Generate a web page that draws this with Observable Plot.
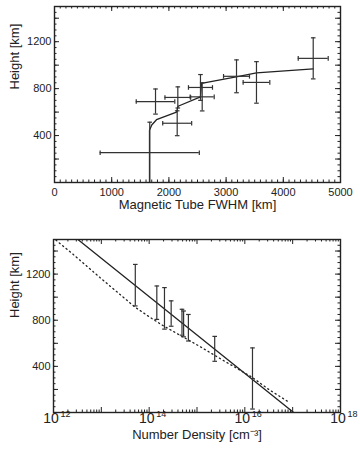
<!DOCTYPE html>
<html><head><meta charset="utf-8">
<script src="https://cdn.jsdelivr.net/npm/d3@7"></script>
<script src="https://cdn.jsdelivr.net/npm/@observablehq/plot@0.6"></script>
<style>body{margin:0;background:#fff;} #chart svg{display:block;}</style>
</head><body><div id="chart"></div>
<script>
// ---- Top panel: magnetic tube FWHM vs height ----
const fwhm       = [1665, 1766, 2156, 2145, 2552, 2582, 3182, 3531, 4523];
const fwhmErr    = [867, 337, 225, 253, 210, 210, 227, 233, 262];
const heightA    = [254, 690, 725, 505, 810, 730, 905, 853, 1058];
const heightAErr = [260, 107, 90, 106, 110, 120, 140, 177, 175];
const fitFwhm    = [1661, 1661, 1700, 1783, 2133, 2160, 2552, 2570, 3222, 3531, 4523];
const fitHeightA = [0, 445, 490, 535, 600, 650, 730, 845, 905, 935, 968];
const xTicksA    = [0, 1000, 2000, 3000, 4000, 5000];
const yTicks     = [400, 800, 1200];

// ---- Bottom panel: number density vs height ----
const densityLog  = [13.71, 14.16, 14.32, 14.46, 14.686, 14.72, 14.82, 15.37, 16.16];
const heightB     = [1104, 952, 903, 858, 783, 768, 735, 552, 295];
const heightBErr  = [180, 145, 180, 110, 112, 112, 115, 108, 265];
const fitDensityLog = [12.51, 17.02];
const fitHeightB    = [1500, 0];
const modelDensityLog = [12.05, 12.4, 13.0, 13.4, 13.7, 14.0, 14.27, 15.07, 15.42, 16.15, 16.5, 16.9];
const modelHeight     = [1495, 1375, 1160, 1020, 915, 830, 758, 570, 483, 306, 200, 95];
const decadeLabels = [12, 14, 16, 18];

const INK = "#222";
const FONT = "'Liberation Sans', Arial, sans-serif";
const plain = d => String(d);

const vbar = {draw(ctx, size){ const r = Math.sqrt(size/Math.PI); ctx.moveTo(0,-r); ctx.lineTo(0,r);} };
const hbar = {draw(ctx, size){ const r = Math.sqrt(size/Math.PI); ctx.moveTo(-r,0); ctx.lineTo(r,0);} };

function frameTicks(W, H, xMajor, xMinor, yMajor, yMinor) {
  const t = [];
  for (const [arr, len] of [[xMajor, 5], [xMinor, 2.5]]) {
    t.push(Plot.ruleX(arr, {stroke: INK, strokeWidth: 1, insetTop: H - len}));
    t.push(Plot.ruleX(arr, {stroke: INK, strokeWidth: 1, insetBottom: H - len}));
  }
  for (const [arr, len] of [[yMajor, 5], [yMinor, 2.5]]) {
    t.push(Plot.ruleY(arr, {stroke: INK, strokeWidth: 1, insetRight: W - len}));
    t.push(Plot.ruleY(arr, {stroke: INK, strokeWidth: 1, insetLeft: W - len}));
  }
  return t;
}

const yMajor = d3.range(0, 1501, 200);
const yMinor = d3.range(0, 1501, 50);

// Top chart
{
  const width = 360, height = 225, mL = 54, mR = 20, mT = 6, mB = 43;
  const W = width - mL - mR, H = height - mT - mB;
  const pts = fwhm.map((w, i) => ({w, we: fwhmErr[i], h: heightA[i], he: heightAErr[i]}));
  const fit = fitFwhm.map((w, i) => ({w, h: fitHeightA[i]}));
  const svg = Plot.plot({
    width, height, marginLeft: mL, marginRight: mR, marginTop: mT, marginBottom: mB,
    style: {fontFamily: FONT, fontSize: "11px", color: INK, background: "white"},
    x: {domain: [0, 5000]},
    y: {domain: [0, 1500]},
    marks: [
      ...frameTicks(W, H, xTicksA, d3.range(0, 5001, 100), yMajor, yMinor),
      Plot.axisX({ticks: xTicksA, tickFormat: plain, tickSize: 0, tickPadding: 5.5, label: null, fontSize: 11}),
      Plot.axisY({ticks: yTicks, tickFormat: plain, tickSize: 0, tickPadding: 3, label: null, fontSize: 11}),
      Plot.line(fit, {x: "w", y: "h", stroke: INK, strokeWidth: 1.3, clip: true}),
      Plot.ruleY(pts, {y: "h", x1: d => d.w - d.we, x2: d => d.w + d.we, stroke: "#333", strokeWidth: 1.2, clip: true}),
      Plot.ruleX(pts, {x: "w", y1: d => d.h - d.he, y2: d => d.h + d.he, stroke: "#333", strokeWidth: 1.2, clip: true}),
      Plot.dot(pts, {x: d => d.w - d.we, y: "h", symbol: vbar, r: 2.3, stroke: "#333", strokeWidth: 1.2, fill: "none", clip: true}),
      Plot.dot(pts, {x: d => d.w + d.we, y: "h", symbol: vbar, r: 2.3, stroke: "#333", strokeWidth: 1.2, fill: "none", clip: true}),
      Plot.dot(pts, {x: "w", y: d => d.h - d.he, symbol: hbar, r: 2.3, stroke: "#333", strokeWidth: 1.2, fill: "none", clip: true}),
      Plot.dot(pts, {x: "w", y: d => d.h + d.he, symbol: hbar, r: 2.3, stroke: "#333", strokeWidth: 1.2, fill: "none", clip: true}),
      Plot.frame({stroke: INK, strokeWidth: 1.4}),
      Plot.text(["Magnetic Tube FWHM [km]"], {text: d => d, frameAnchor: "bottom", dy: 26, fontSize: 13, fill: INK}),
      Plot.text(["Height [km]"], {text: d => d, frameAnchor: "left", rotate: -90, dx: -40, dy: -5, fontSize: 13, fill: INK})
    ]
  });
  document.getElementById("chart").append(svg);
}

// Bottom chart
{
  const width = 360, height = 225, mL = 53, mR = 20, mT = 14, mB = 38;
  const W = width - mL - mR, H = height - mT - mB;
  const pts = densityLog.map((l, i) => ({n: 10 ** l, h: heightB[i], he: heightBErr[i]}));
  const fit = fitDensityLog.map((l, i) => ({n: 10 ** l, h: fitHeightB[i]}));
  const model = modelDensityLog.map((l, i) => ({n: 10 ** l, h: modelHeight[i]}));
  const xMajor = d3.range(12, 19).map(d => 10 ** d);
  const xMinor = d3.range(12, 18).flatMap(d => d3.range(2, 10).map(k => k * 10 ** d));
  const svg = Plot.plot({
    width, height, marginLeft: mL, marginRight: mR, marginTop: mT, marginBottom: mB,
    style: {fontFamily: FONT, fontSize: "11px", color: INK, background: "white"},
    x: {type: "log", domain: [1e12, 1e18], axis: null},
    y: {domain: [0, 1500]},
    marks: [
      ...frameTicks(W, H, xMajor, xMinor, yMajor, yMinor),
      Plot.axisY({ticks: yTicks, tickFormat: plain, tickSize: 0, tickPadding: 3, label: null, fontSize: 11}),
      Plot.text(decadeLabels, {x: d => 10 ** d, text: () => "10", frameAnchor: "bottom", dy: 10.5, dx: -2.5, fontSize: 14, fill: INK}),
      Plot.text(decadeLabels, {x: d => 10 ** d, text: d => String(d), frameAnchor: "bottom", dy: 4.5, dx: 7, textAnchor: "start", fontSize: 9, fill: INK}),
      Plot.line(model, {x: "n", y: "h", stroke: INK, strokeWidth: 1.3, strokeDasharray: "1.2,3.2", clip: true}),
      Plot.line(fit, {x: "n", y: "h", stroke: INK, strokeWidth: 1.3, clip: true}),
      Plot.ruleX(pts, {x: "n", y1: d => d.h - d.he, y2: d => d.h + d.he, stroke: "#333", strokeWidth: 1.2}),
      Plot.dot(pts, {x: "n", y: d => d.h - d.he, symbol: hbar, r: 2.3, stroke: "#333", strokeWidth: 1.2, fill: "none"}),
      Plot.dot(pts, {x: "n", y: d => d.h + d.he, symbol: hbar, r: 2.3, stroke: "#333", strokeWidth: 1.2, fill: "none"}),
      Plot.dot(pts, {x: "n", y: "h", symbol: "plus", r: 2, fill: "#222"}),
      Plot.frame({stroke: INK, strokeWidth: 1.4}),
      Plot.text(["Number Density [cm⁻³]"], {text: d => d, frameAnchor: "bottom", dy: 26, fontSize: 13, fill: INK}),
      Plot.text(["Height [km]"], {text: d => d, frameAnchor: "left", rotate: -90, dx: -39, dy: -8, fontSize: 13, fill: INK})
    ]
  });
  document.getElementById("chart").append(svg);
}
</script>
</body></html>
